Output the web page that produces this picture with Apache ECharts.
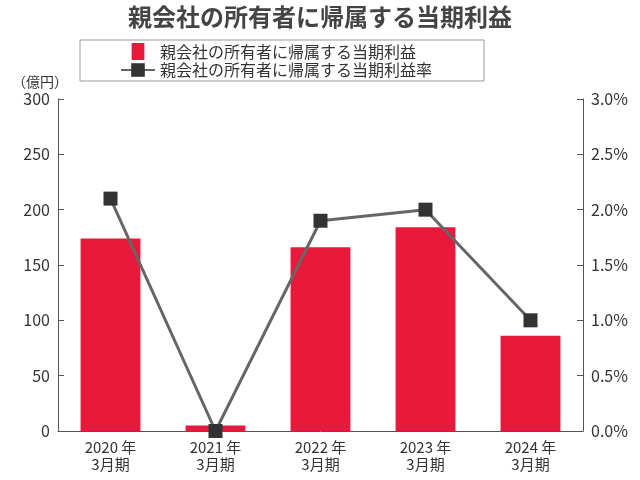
<!DOCTYPE html>
<html><head><meta charset="utf-8">
<script src="https://cdn.jsdelivr.net/npm/echarts@6/dist/echarts.min.js"></script>
<style>html,body{margin:0;background:#fff}#c{width:640px;height:480px}</style>
</head><body><div id="c"></div>
<script>
const categories = ['2020 年\n3月期', '2021 年\n3月期', '2022 年\n3月期', '2023 年\n3月期', '2024 年\n3月期'];
const profit = [174, 5, 166, 184, 86];
const profitRate = [2.1, 0.0, 1.9, 2.0, 1.0];
const barName = '親会社の所有者に帰属する当期利益';
const lineName = '親会社の所有者に帰属する当期利益率';

const chart = echarts.init(document.getElementById('c'));
const font = '"Noto Sans CJK JP", Roboto, sans-serif';
chart.setOption({
  textStyle: { fontFamily: font },
  title: {
    text: barName, left: 'center', top: 0,
    textStyle: { fontSize: 24, fontWeight: 'bold', color: '#444', fontFamily: font }
  },
  legend: {
    orient: 'vertical', top: 40, left: 80,
    padding: [3, 52, 3, 40], itemGap: 2,
    borderColor: '#999', borderWidth: 1,
    textStyle: { fontSize: 16, color: '#333' },
    data: [
      { name: barName, icon: 'path://M9,0h12v16h-12z' },
      { name: lineName }
    ],
    itemWidth: 34, itemHeight: 17
  },
  grid: { left: 58, right: 57, top: 99, bottom: 49 },
  xAxis: {
    type: 'category', data: categories,
    axisLine: { lineStyle: { color: '#555' } },
    axisTick: { show: false },
    axisLabel: { fontSize: 15, color: '#333', lineHeight: 17 }
  },
  yAxis: [
    {
      type: 'value', min: 0, max: 300, interval: 50, name: '（億円）',
      nameGap: 10, nameTextStyle: { fontSize: 14, color: '#333', align: 'right', padding: [0, -10, 0, 0] },
      axisLine: { show: true, lineStyle: { color: '#555' } },
      axisTick: { show: true, inside: true, length: 6 },
      splitLine: { show: false },
      axisLabel: { fontSize: 16, color: '#333' }
    },
    {
      type: 'value', min: 0, max: 3, interval: 0.5,
      axisLine: { show: true, lineStyle: { color: '#555' } },
      axisTick: { show: true, inside: true, length: 6 },
      splitLine: { show: false },
      axisLabel: { fontSize: 16, color: '#333', formatter: v => v.toFixed(1) + '%' }
    }
  ],
  series: [
    {
      name: barName, type: 'bar', data: profit, barWidth: '57%',
      itemStyle: { color: '#e8193a' }
    },
    {
      name: lineName, type: 'line', yAxisIndex: 1, data: profitRate,
      symbol: 'rect', symbolSize: 14,
      lineStyle: { color: '#666', width: 3 },
      itemStyle: { color: '#333' }
    }
  ]
});
</script></body></html>
